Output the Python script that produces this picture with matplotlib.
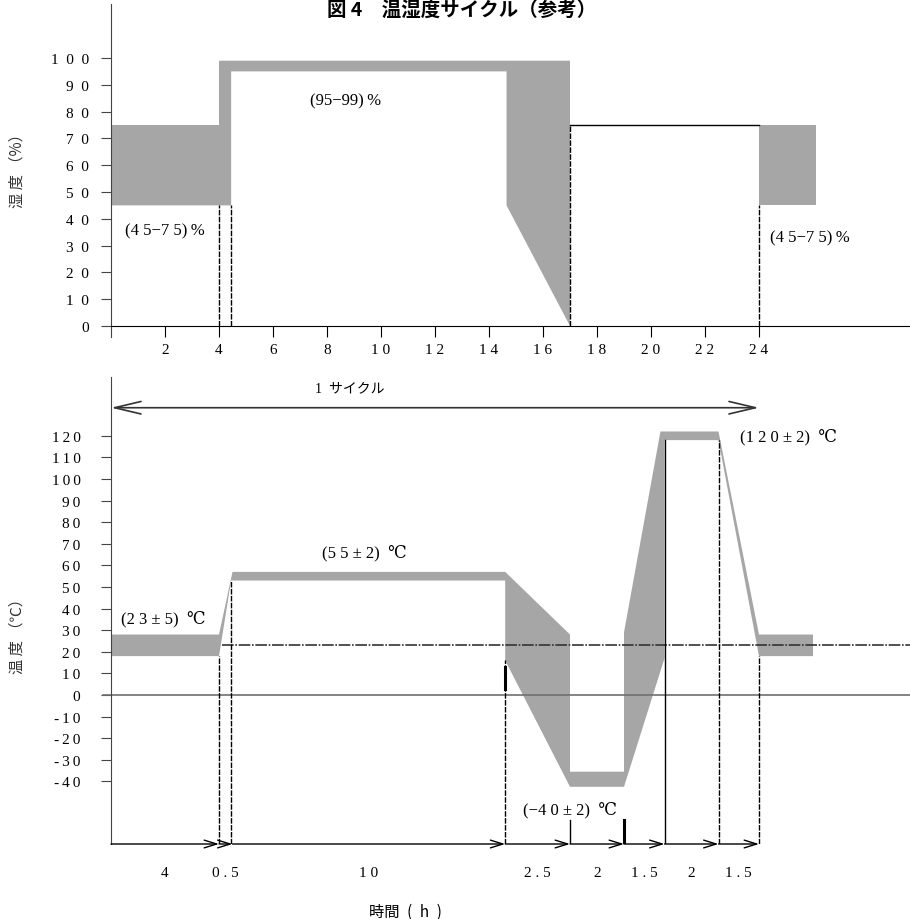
import matplotlib
matplotlib.use("Agg")
import matplotlib.pyplot as plt
from matplotlib.patches import Polygon

JP = ['Noto Sans CJK JP', 'DejaVu Sans']
SERIF = ['Liberation Serif', 'DejaVu Serif', 'Noto Sans CJK JP']
GRAY = '#a6a6a6'
AXC = '#444444'
EN = '\u2002'   # en space, the source spaces its digits out
TH = '\u2009'   # thin space

# ---- humidity panel (hours, %)
hum_ticks = [0, 10, 20, 30, 40, 50, 60, 70, 80, 90, 100]
hum_tick_labels = ['0', '1 0', '2 0', '3 0', '4 0', '5 0', '6 0', '7 0', '8 0', '9 0', '1 0 0']
hour_ticks = [2, 4, 6, 8, 10, 12, 14, 16, 18, 20, 22, 24]
hour_tick_labels = ['2', '4', '6', '8', '1 0', '1 2', '1 4', '1 6', '1 8', '2 0', '2 2', '2 4']

# tolerance band outline, first part of the cycle
hum_band_x = [0, 0, 4, 4, 17, 17, 14.65, 14.65, 4.45, 4.45]
hum_band_y = [45, 75, 75, 99, 99, 0, 45, 95, 95, 45]
# band after the cycle ends
hum_end_x = [24, 24, 26.1, 26.1]
hum_end_y = [45, 75, 75, 45]
hum_dry_x = [17, 24]
hum_dry_y = [75, 75]
hum_drops_x = [4, 4.45, 17, 24]
hum_drops_top = [45, 45, 75, 45]

# ---- temperature panel (hours, degC)
temp_ticks = [120, 110, 100, 90, 80, 70, 60, 50, 40, 30, 20, 10, 0, -10, -20, -30, -40]
seg_hours = ['4', '0 . 5', '1 0', '2 . 5', '2', '1 . 5', '2', '1 . 5']
seg_marks = [0, 4, 4.5, 14.6, 17, 19, 20.5, 22.5, 24]

temp_upper_x = [0, 4, 4.5, 14.6, 17, 17, 19, 19, 20.35, 22.5, 24, 26]
temp_upper_y = [28, 28, 57, 57, 28, -35.5, -35.5, 29, 122, 122, 28, 28]
temp_lower_x = [0, 4, 4.45, 14.6, 14.6, 17, 19, 20.5, 20.5, 22.5, 24, 26]
temp_lower_y = [18, 18, 53, 53, 16, -42.5, -42.5, 17, 118, 118, 18, 18]

temp_drops_x = [4, 4.45, 14.6, 22.5, 24]
temp_drops_top = [18, 53, 16, 118, 18]
room_temp = 23

W, H = 910, 920
fig = plt.figure(figsize=(W / 100, H / 100), dpi=100)

PXH = 27.0  # pixels per hour
x_right = (W - 111) / PXH

# ================= humidity =================
hpx = 2.68
ax1 = fig.add_axes([111 / W, 1 - 338 / H, (W - 111) / W, 333 / H])
ax1.set_xlim(0, x_right)
ax1.set_ylim(-(338 - 327) / hpx, (327 - 5) / hpx)
for s in ['top', 'right']:
    ax1.spines[s].set_visible(False)
ax1.spines['bottom'].set_position(('data', 0))
ax1.spines['bottom'].set_color('k')
ax1.spines['left'].set_color(AXC)
ax1.patch.set_visible(False)

ax1.add_patch(Polygon(list(zip(hum_band_x, hum_band_y)), closed=True, fc=GRAY, ec='none'))
ax1.add_patch(Polygon(list(zip(hum_end_x, hum_end_y)), closed=True, fc=GRAY, ec='none'))
ax1.plot(hum_dry_x, hum_dry_y, color='k', lw=1)
for x, top in zip(hum_drops_x, hum_drops_top):
    ax1.plot([x, x], [0, top], color='k', lw=1, ls=(0, (4, 1)))

ax1.set_yticks(hum_ticks)
ax1.set_yticklabels([t.replace(' ', EN) for t in hum_tick_labels], family=SERIF, fontsize=11)
ax1.set_xticks(hour_ticks)
ax1.set_xticklabels(hour_tick_labels, family=SERIF, fontsize=11)
ax1.tick_params(axis='y', length=7, pad=9, color=AXC)
ax1.tick_params(axis='x', length=8, pad=4, color='k')

ax1.text(8.67, 84, '(95−99)' + TH + '%', family=SERIF, fontsize=12, ha='center', va='center')
ax1.text(2.0, 35.5, '(4 5−7 5)' + TH + '%', family=SERIF, fontsize=12, ha='center', va='center')
ax1.text(25.9, 33.2, '(4 5−7 5)' + TH + '%', family=SERIF, fontsize=12, ha='center', va='center')

fig.text(17 / W, 1 - 167 / H, '湿 度 （%）', family=JP, fontsize=11, rotation=90,
         ha='center', va='center', color='#333333')

# ================= temperature =================
tpx = 2.16
ax2 = fig.add_axes([111 / W, 1 - 845 / H, (W - 111) / W, (845 - 378) / H])
ax2.set_xlim(0, x_right)
ybot = -(845 - 696) / tpx
ax2.set_ylim(ybot, (696 - 378) / tpx)
for s in ['top', 'right', 'bottom']:
    ax2.spines[s].set_visible(False)
ax2.spines['left'].set_color(AXC)
ax2.patch.set_visible(False)

band = list(zip(temp_upper_x, temp_upper_y)) + list(zip(temp_lower_x, temp_lower_y))[::-1]
ax2.add_patch(Polygon(band, closed=True, fc=GRAY, ec='none'))

ax2.plot([-0.3, x_right], [0, 0], color='#707070', lw=1.2, clip_on=False)
ax2.plot([4.1, x_right], [room_temp, room_temp], color='#333333', lw=1.2,
         ls=(0, (7, 1, 1, 1)))

for x, top in zip(temp_drops_x, temp_drops_top):
    ax2.plot([x, x], [ybot, top], color='k', lw=1, ls=(0, (4, 1)))
ax2.plot([20.5, 20.5], [ybot, 118], color='k', lw=1)
ax2.plot([17, 17], [ybot, -58], color='k', lw=1)
ax2.plot([19, 19], [ybot, -58], color='k', lw=2.2)
ax2.plot([14.6, 14.6], [3, 13], color='k', lw=2.2)

# time axis made of arrows
for i in range(len(seg_hours)):
    a, b = seg_marks[i], seg_marks[i + 1]
    ax2.annotate('', xy=(b, ybot), xytext=(a, ybot),
                 arrowprops=dict(arrowstyle='->,head_length=0.9,head_width=0.28',
                                 color='k', lw=1, shrinkA=0, shrinkB=0,
                                 mutation_scale=10), annotation_clip=False)
    ax2.text((a + b) / 2, -82, seg_hours[i], family=SERIF, fontsize=11,
             ha='center', va='center')

ax2.text(10.9, -100, '時間' + EN + '(' + EN + 'h' + EN + ')', family=JP, fontsize=11,
         ha='center', va='center')

# one cycle arrow
ax2.annotate('', xy=(24, 133), xytext=(0, 133),
             arrowprops=dict(arrowstyle='<->,head_length=1.9,head_width=0.45',
                             color='#333333', lw=1.2, shrinkA=0, shrinkB=0,
                             mutation_scale=10), annotation_clip=False)
ax2.text(8.85, 142, '1  サイクル', family=SERIF, fontsize=10, ha='center', va='center')

ax2.set_yticks(temp_ticks)
ax2.set_yticklabels([TH.join(str(t)) for t in temp_ticks], family=SERIF, fontsize=11)
ax2.tick_params(axis='y', length=7, pad=15, color=AXC)
ax2.set_xticks([])

ax2.text(25.1, 120, '(1 2 0 ± 2)' + EN + '℃', family=SERIF, fontsize=12, ha='center', va='center')
ax2.text(9.4, 66, '(5 5 ± 2)' + EN + '℃', family=SERIF, fontsize=12, ha='center', va='center')
ax2.text(1.95, 35.5, '(2 3 ± 5)' + EN + '℃', family=SERIF, fontsize=12, ha='center', va='center')
ax2.text(17.0, -52.8, '(−4 0 ± 2)' + EN + '℃', family=SERIF, fontsize=12, ha='center', va='center')

fig.text(17 / W, 1 - 633 / H, '温 度 （℃）', family=JP, fontsize=11, rotation=90,
         ha='center', va='center', color='#333333')

fig.text(462 / W, 1 - 1 / H, '図 4　温湿度サイクル（参考）', family=JP, fontsize=14,
         fontweight='bold', ha='center', va='top')

fig.savefig('out.png', dpi=100)
